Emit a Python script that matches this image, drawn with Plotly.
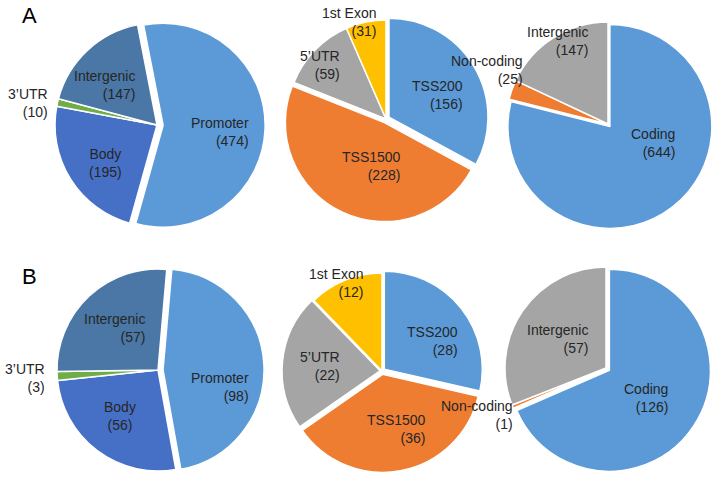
import plotly.graph_objects as go

W, H = 715, 478

# ---- data ----
a1_labels = ["Promoter", "Body", "3’UTR", "Intergenic"]
a1_values = [474, 195, 10, 147]
a2_labels = ["TSS200", "TSS1500", "5’UTR", "1st Exon"]
a2_values = [156, 228, 59, 31]
a3_labels = ["Coding", "Non-coding", "Intergenic"]
a3_values = [644, 25, 147]

b1_labels = ["Promoter", "Body", "3’UTR", "Intergenic"]
b1_values = [98, 56, 3, 57]
b2_labels = ["TSS200", "TSS1500", "5’UTR", "1st Exon"]
b2_values = [28, 36, 22, 12]
b3_labels = ["Coding", "Non-coding", "Intergenic"]
b3_values = [126, 1, 57]

panel_labels = ["A", "B"]

# ---- styles ----
FONT = "Liberation Sans, Arial, sans-serif"
TXT = "#262626"
c_region = ["#5b9ad6", "#4670c6", "#70ad47", "#4a77a5"]
c_tss = ["#5b9ad6", "#ee7d31", "#a5a5a5", "#ffc000"]
c_gene = ["#5b9ad6", "#ee7d31", "#a5a5a5"]


def dom(cx, cy, r, pull):
    half = r * (1 + pull)
    return dict(x=[max(0, (cx - half) / W), min(1, (cx + half) / W)],
                y=[max(0, 1 - (cy + half) / H), min(1, 1 - (cy - half) / H)])


def pie(labels, values, colors, pulls, rotation, domain):
    return go.Pie(
        labels=labels, values=values, sort=False, direction="clockwise",
        rotation=rotation, pull=pulls, automargin=False, textinfo="none",
        marker=dict(colors=colors, line=dict(color="white", width=1.5)),
        showlegend=False, hoverinfo="label+value", domain=domain,
    )


fig = go.Figure()
p = [0.06, 0, 0, 0]
fig.add_trace(pie(a1_labels, a1_values, c_region, p, -11, dom(157, 125, 102, max(p))))
p = [0.035, 0.04, 0, 0]
fig.add_trace(pie(a2_labels, a2_values, c_tss, p, 0, dom(386, 119, 99, max(p))))
p = [0.03, 0, 0]
fig.add_trace(pie(a3_labels, a3_values, c_gene, p, 0, dom(608, 124, 102, max(p))))
p = [0.05, 0, 0, 0]
fig.add_trace(pie(b1_labels, b1_values, c_region, p, 5, dom(158, 370, 101, max(p))))
p = [0.03, 0.035, 0.02, 0]
fig.add_trace(pie(b2_labels, b2_values, c_tss, p, 0, dom(382, 371, 98, max(p))))
p = [0.04, 0, 0]
fig.add_trace(pie(b3_labels, b3_values, c_gene, p, 0, dom(606, 368, 101, max(p))))


def lab(labels, values, i, x, y, anchor="right"):
    return dict(text=f"{labels[i]}<br>({values[i]})", x=x / W, y=1 - y / H,
                xref="paper", yref="paper", xanchor=anchor, yanchor="middle",
                align=anchor, showarrow=False,
                font=dict(family=FONT, size=14, color=TXT))


annotations = [
    # A row
    lab(a1_labels, a1_values, 0, 251, 132),
    lab(a1_labels, a1_values, 1, 105, 163, "center"),
    lab(a1_labels, a1_values, 2, 50, 103),
    lab(a1_labels, a1_values, 3, 137, 85),
    lab(a2_labels, a2_values, 0, 465, 95),
    lab(a2_labels, a2_values, 1, 403, 166),
    lab(a2_labels, a2_values, 2, 342, 65),
    lab(a2_labels, a2_values, 3, 378, 22),
    lab(a3_labels, a3_values, 0, 677, 143),
    lab(a3_labels, a3_values, 1, 525, 70),
    lab(a3_labels, a3_values, 2, 590, 41),
    # B row
    lab(b1_labels, b1_values, 0, 251, 387),
    lab(b1_labels, b1_values, 1, 120, 416, "center"),
    lab(b1_labels, b1_values, 2, 47, 378),
    lab(b1_labels, b1_values, 3, 147, 328),
    lab(b2_labels, b2_values, 0, 460, 341),
    lab(b2_labels, b2_values, 1, 428, 429),
    lab(b2_labels, b2_values, 2, 342, 366),
    lab(b2_labels, b2_values, 3, 365, 283),
    lab(b3_labels, b3_values, 0, 670, 398),
    lab(b3_labels, b3_values, 1, 515, 415),
    lab(b3_labels, b3_values, 2, 590, 339),
]
for name, yc in zip(panel_labels, [16, 276]):
    annotations.append(dict(text=name, x=20 / W, y=1 - yc / H, xref="paper", yref="paper",
                            xanchor="left", yanchor="middle", showarrow=False,
                            font=dict(family=FONT, size=22, color="#000")))

fig.update_layout(
    width=W, height=H, margin=dict(l=0, r=0, t=0, b=0, autoexpand=False),
    paper_bgcolor="white", plot_bgcolor="white", showlegend=False,
    font=dict(family=FONT, color=TXT),
    annotations=annotations,
)

fig.write_html("out.html", config={"displayModeBar": False},
               post_script="document.body.style.margin='0';")
